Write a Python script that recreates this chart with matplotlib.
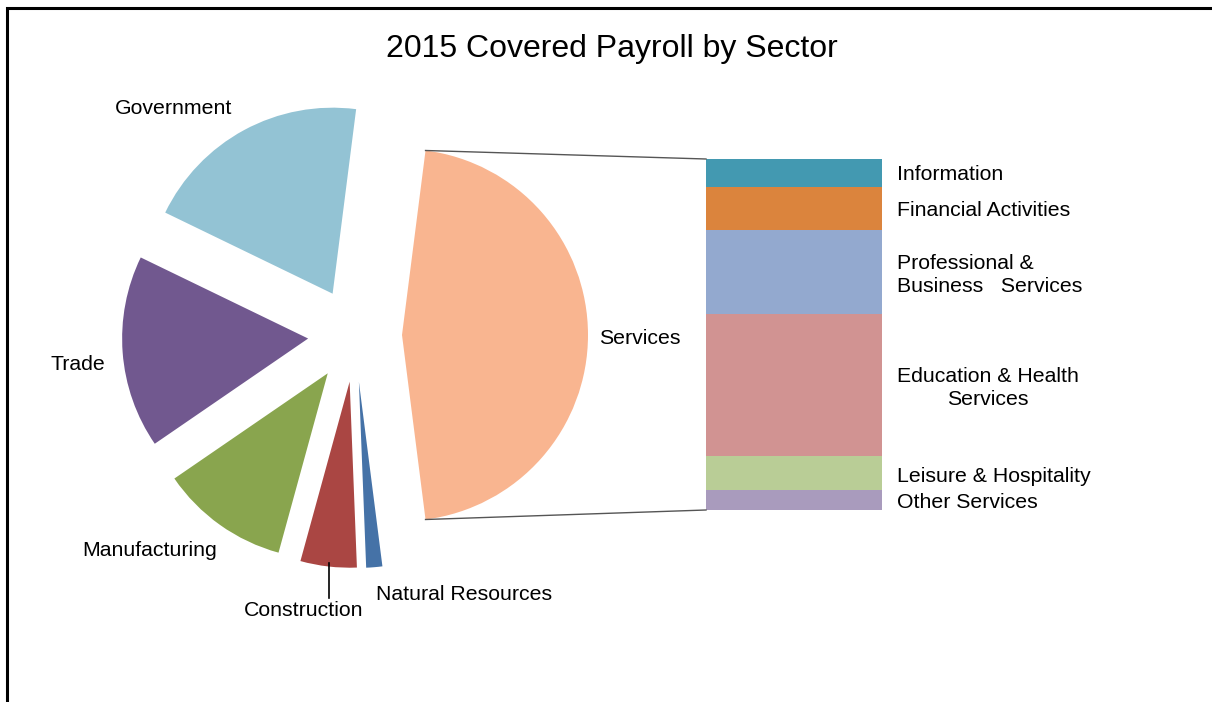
import numpy as np
import matplotlib.pyplot as plt

plt.rcParams['font.family'] = ['Liberation Sans', 'DejaVu Sans']

# share of total covered payroll (%)
pie_labels = ['Government', 'Trade', 'Manufacturing', 'Construction', 'Natural Resources']
pie_values = [19.9, 16.8, 11.2, 4.9, 1.4]
pie_colors = ['#93c3d4', '#71588f', '#89a54e', '#aa4643', '#4572a7']

svc_labels = ['Information', 'Financial Activities', 'Professional &\nBusiness   Services',
              'Education & Health\nServices', 'Leisure & Hospitality', 'Other Services']
svc_values = [3.7, 5.6, 11.0, 18.7, 4.5, 2.6]
svc_colors = ['#4399b1', '#db843d', '#93a9cf', '#d19392', '#b9cd96', '#a99bbd']
svc_color = '#f9b590'

W, H = 1212, 702
fig = plt.figure(figsize=(W / 100, H / 100), dpi=100)
ax = fig.add_axes([0, 0, 1, 1])

def py(y):
    # image row -> data y
    return H - y

# --- pie of pie ---
services = sum(svc_values)
values = [services] + pie_values
colors = [svc_color] + pie_colors
center = (355, py(335))
radius = 186
start = -services / sum(values) * 180
# explode is in data units here (radius is not 1)
wedges, _ = ax.pie(values, colors=colors, center=center, radius=radius,
                   startangle=start, counterclock=True, explode=[47] * len(values),
                   wedgeprops=dict(linewidth=0), frame=True)
ax.set_xlim(0, W)
ax.set_ylim(0, H)
ax.set_aspect('equal')
ax.axis('off')

# --- stacked bar for services breakdown ---
bar_x, bar_w = 794, 176
bar_top, bar_bot = py(159), py(510)
scale = (bar_top - bar_bot) / services
bottoms = bar_top - np.cumsum(svc_values) * scale
ax.bar([bar_x] * len(svc_values), np.array(svc_values) * scale, bottom=bottoms,
       width=bar_w, color=svc_colors, linewidth=0)

# connector lines from services wedge to bar
sw = wedges[0]
th1, th2 = np.radians(sw.theta1), np.radians(sw.theta2)
cx, cy = sw.center
ax.plot([cx + radius * np.cos(th2), bar_x - bar_w / 2],
        [cy + radius * np.sin(th2), bar_top], color='#555555', lw=1)
ax.plot([cx + radius * np.cos(th1), bar_x - bar_w / 2],
        [cy + radius * np.sin(th1), bar_bot], color='#555555', lw=1)

fs = 15.3
# pie labels
ax.text(640, py(338), 'Services', fontsize=fs, ha='center', va='center')
ax.text(174, py(109), pie_labels[0], fontsize=fs, ha='center', va='center')
ax.text(78, py(364), pie_labels[1], fontsize=fs, ha='center', va='center')
ax.text(150, py(551), pie_labels[2], fontsize=fs, ha='center', va='center')
ax.text(304, py(611), pie_labels[3], fontsize=fs, ha='center', va='center')
ax.text(464, py(594), pie_labels[4], fontsize=fs, ha='center', va='center')
ax.plot([329, 329], [py(563), py(598)], color='black', lw=1.2)

# bar labels
lab_y = [175, 211, 275, 388, 476, 503]
for i, lab in enumerate(svc_labels):
    if i == 3:
        ax.text(988, py(lab_y[i]), lab, fontsize=fs, ha='center', va='center',
                multialignment='center', linespacing=1.22)
    else:
        ax.text(897, py(lab_y[i]), lab, fontsize=fs, ha='left', va='center',
                linespacing=1.22)

ax.text(612, py(49), '2015 Covered Payroll by Sector', fontsize=23, ha='center', va='center')

# outer frame
ax.plot([7, 7, W], [0, py(8), py(8)], color='black', lw=2.2, solid_capstyle='butt',
        solid_joinstyle='miter', clip_on=False)

fig.savefig('out.png', dpi=100)
